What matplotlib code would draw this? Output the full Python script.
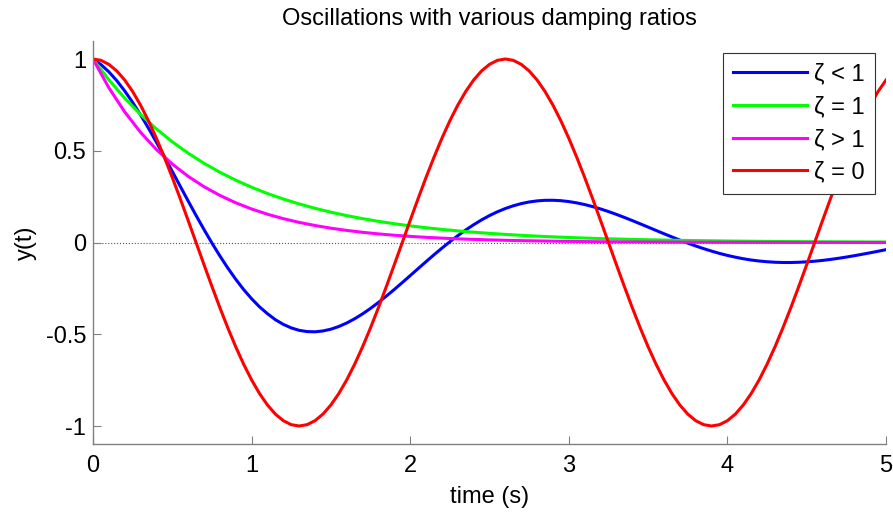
import numpy as np
import matplotlib
matplotlib.use("Agg")
import matplotlib.pyplot as plt

plt.rcParams['font.family'] = ['Liberation Sans', 'DejaVu Sans']
plt.rcParams['axes.unicode_minus'] = False

# time samples (s)
t_fine = [round(0.05 * i, 2) for i in range(101)]    # step 0.05
t_coarse = [round(0.1 * i, 1) for i in range(51)]    # step 0.1

# values
y_under = [1.0, 0.9699, 0.9303, 0.8821, 0.8262, 0.7637, 0.6955, 0.6228, 0.5465, 0.4684,
           0.3875, 0.3069, 0.2265, 0.1475, 0.0709, -0.0029, -0.0729, -0.1389, -0.2001, -0.2563,
           -0.3062, -0.3506, -0.3878, -0.4206, -0.4461, -0.4654, -0.4786, -0.4854, -0.4867, -0.4820,
           -0.4724, -0.4577, -0.4386, -0.4155, -0.3888, -0.3590, -0.3265, -0.2919, -0.2557, -0.2184,
           -0.1804, -0.1422, -0.1042, -0.0669, -0.0307, 0.0041, 0.0371, 0.0682, 0.0968, 0.1232,
           0.1468, 0.1675, 0.1852, 0.2001, 0.2120, 0.2209, 0.2268, 0.2299, 0.2302, 0.2279,
           0.2231, 0.2160, 0.2068, 0.1957, 0.1829, 0.1687, 0.1532, 0.1368, 0.1196, 0.1019,
           0.0839, 0.0658, 0.0479, 0.0303, 0.0132, -0.0032, -0.0188, -0.0334, -0.0469, -0.0593,
           -0.0703, -0.0800, -0.0884, -0.0954, -0.1008, -0.1048, -0.1076, -0.1089, -0.1089, -0.1077,
           -0.1054, -0.1019, -0.0975, -0.0922, -0.0861, -0.0793, -0.0719, -0.0641, -0.0560, -0.0476,
           -0.0390]
y_crit = [1.0, 0.8869, 0.7866, 0.6977, 0.6188, 0.5488, 0.4868, 0.4317, 0.3829, 0.3396,
          0.3012, 0.2671, 0.2369, 0.2101, 0.1864, 0.1653, 0.1466, 0.1300, 0.1153, 0.1023,
          0.0907, 0.0805, 0.0714, 0.0633, 0.0561, 0.0498, 0.0442, 0.0392, 0.0347, 0.0308,
          0.0273, 0.0242, 0.0215, 0.0191, 0.0169, 0.0150, 0.0133, 0.0118, 0.0105, 0.0093,
          0.0082, 0.0073, 0.0065, 0.0057, 0.0051, 0.0045, 0.0040, 0.0036, 0.0032, 0.0028,
          0.0025]
y_over = [1.0, 0.8437, 0.7118, 0.6005, 0.5066, 0.4274, 0.3606, 0.3042, 0.2567, 0.2165,
          0.1827, 0.1541, 0.1300, 0.1097, 0.0926, 0.0781, 0.0659, 0.0556, 0.0469, 0.0396,
          0.0334, 0.0282, 0.0238, 0.0200, 0.0169, 0.0143, 0.0120, 0.0101, 0.0086, 0.0072,
          0.0061, 0.0051, 0.0043, 0.0037, 0.0031, 0.0026, 0.0022, 0.0019, 0.0016, 0.0013,
          0.0011, 0.0009, 0.0008, 0.0007, 0.0006, 0.0005, 0.0004, 0.0003, 0.0003, 0.0002,
          0.0002]
y_undamped = [1.0, 0.9927, 0.9709, 0.9350, 0.8855, 0.8230, 0.7485, 0.6631, 0.5681, 0.4647,
              0.3546, 0.2393, 0.1205, 0.0, -0.1205, -0.2393, -0.3546, -0.4647, -0.5681, -0.6631,
              -0.7485, -0.8230, -0.8855, -0.9350, -0.9709, -0.9927, -1.0, -0.9927, -0.9709, -0.9350,
              -0.8855, -0.8230, -0.7485, -0.6631, -0.5681, -0.4647, -0.3546, -0.2393, -0.1205, 0.0,
              0.1205, 0.2393, 0.3546, 0.4647, 0.5681, 0.6631, 0.7485, 0.8230, 0.8855, 0.9350,
              0.9709, 0.9927, 1.0, 0.9927, 0.9709, 0.9350, 0.8855, 0.8230, 0.7485, 0.6631,
              0.5681, 0.4647, 0.3546, 0.2393, 0.1205, 0.0, -0.1205, -0.2393, -0.3546, -0.4647,
              -0.5681, -0.6631, -0.7485, -0.8230, -0.8855, -0.9350, -0.9709, -0.9927, -1.0, -0.9927,
              -0.9709, -0.9350, -0.8855, -0.8230, -0.7485, -0.6631, -0.5681, -0.4647, -0.3546, -0.2393,
              -0.1205, 0.0, 0.1205, 0.2393, 0.3546, 0.4647, 0.5681, 0.6631, 0.7485, 0.8230,
              0.8855]

labels = ['ζ < 1', 'ζ = 1', 'ζ > 1', 'ζ = 0']
colors = ['#0000ff', '#00ff00', '#ff00ff', '#ff0000']
xticks = [0, 1, 2, 3, 4, 5]
yticks = [-1, -0.5, 0, 0.5, 1]
yticklabels = ['-1', '-0.5', '0', '0.5', '1']

fig = plt.figure(figsize=(8.93, 5.12), dpi=100)
ax = fig.add_axes([0.1041, 0.1321, 0.8881, 0.7885])

ax.axhline(0, color='#555555', ls=':', lw=0.8, zorder=1)
series = [(t_fine, y_under), (t_coarse, y_crit), (t_coarse, y_over), (t_fine, y_undamped)]
for (ts, ys), lab, c in zip(series, labels, colors):
    ax.plot(ts, ys, color=c, lw=2.2, label=lab, zorder=2)

ax.set_xlim(0, 5)
ax.set_ylim(-1.1, 1.1)
ax.set_xticks(xticks)
ax.set_yticks(yticks)
ax.set_yticklabels(yticklabels)

grey = '#808080'
for side in ['top', 'right']:
    ax.spines[side].set_visible(False)
for side in ['left', 'bottom']:
    ax.spines[side].set_color(grey)
    ax.spines[side].set_linewidth(1.0)
ax.tick_params(direction='in', length=6, width=0.8, color=grey, labelsize=17)
ax.tick_params(axis='x', pad=8)
ax.tick_params(axis='y', pad=5)

ax.set_title('Oscillations with various damping ratios', fontsize=17, pad=11)
ax.set_xlabel('time (s)', fontsize=17, labelpad=6)
ax.set_ylabel('y(t)', fontsize=17, labelpad=6)

leg = ax.legend(loc='upper right', bbox_to_anchor=(0.9861, 0.9694), borderaxespad=0,
                fontsize=17, frameon=True, fancybox=False, framealpha=1,
                handlelength=3.1, handletextpad=0.3, labelspacing=0.45,
                borderpad=0.45)
leg.get_frame().set_edgecolor('#333333')
leg.get_frame().set_linewidth(0.8)

fig.savefig('out.png', dpi=100)
